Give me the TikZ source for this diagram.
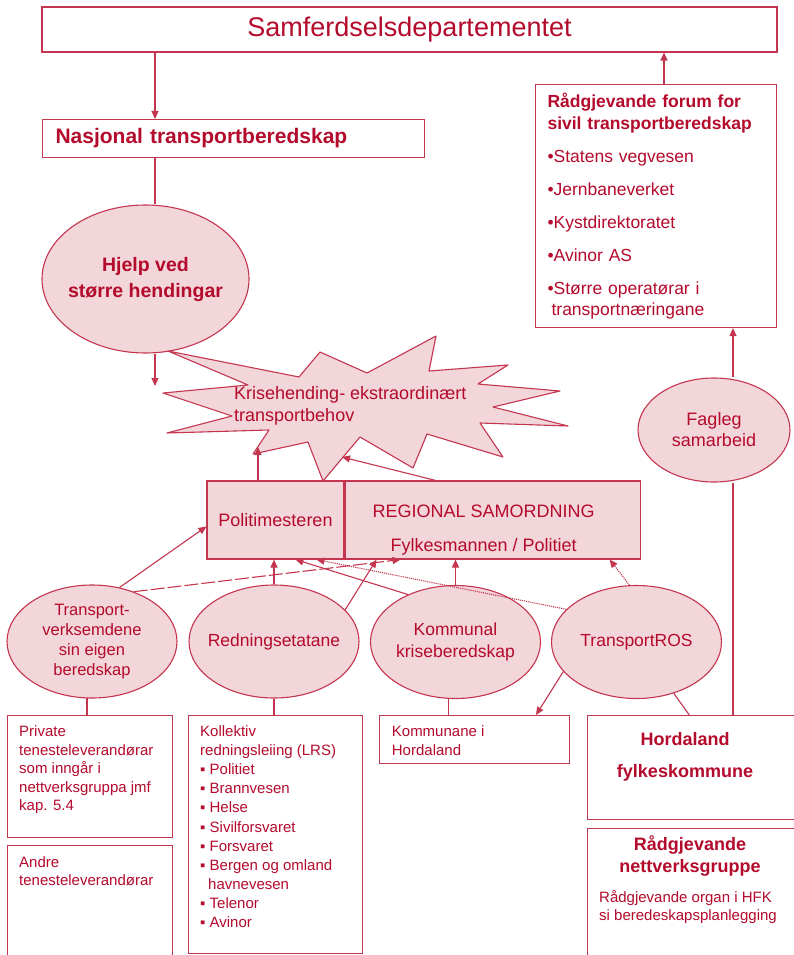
\documentclass[tikz,border=0pt]{standalone}
\usepackage{fontspec}
\setmainfont{Liberation Sans}
\usepackage{tikz}
\usetikzlibrary{positioning, arrows.meta, shapes.geometric, calc}
\definecolor{hfred}{HTML}{B40A2C}
\definecolor{hfline}{HTML}{C4354F}
\definecolor{hfpink}{HTML}{F3D6DA}
\newcommand{\pxfont}[2]{\fontsize{#1}{#2}\selectfont}

\begin{document}
\begin{tikzpicture}[
    x=1pt, y=-1pt,
    box/.style={draw=hfline, line width=1.1pt, fill=white, text=hfred, inner sep=0pt},
    pinkbox/.style={box, fill=hfpink, font=\pxfont{18}{22}},
    bubble/.style={ellipse, draw=hfline, line width=1.1pt, fill=hfpink, text=hfred, inner xsep=-30pt, inner ysep=0pt, align=center, minimum width=170pt, minimum height=113pt, font=\pxfont{17.5}{21}},
    txt/.style={text=hfred, inner sep=0pt, align=left, anchor=north west, font=\pxfont{15}{18.5}},
    arrow/.style={-{Triangle[length=8pt, width=7pt]}, hfline, line width=1.1pt},
    link/.style={hfline, line width=1.1pt}
  ]
  \useasboundingbox (0,0) rectangle (793,955);
  \coordinate (c1) at (155,0);
  \coordinate (c2) at (664,0);
  \coordinate (c3) at (733,0);
  \coordinate (hjelpend) at (155,386);
  \coordinate (kriseA) at (258,447);
  \coordinate (kriseB) at (342,457);

  \node[box, minimum width=735pt, minimum height=45pt, font=\pxfont{27}{32}] (dep) at (409.5,29.5) {Samferdselsdepartementet};
  \node[box, anchor=north west, minimum height=38pt, text width=356pt, inner xsep=13pt, align=left, font=\bfseries\pxfont{21}{25}] (nasjonal) at (42,119) {Nasjonal transportberedskap};
  \node[bubble, minimum width=207pt, minimum height=148pt, font=\bfseries\pxfont{19.5}{26}] (hjelp) at (145.5,279) {Hjelp ved\\større hendingar};

  \filldraw[link, fill=hfpink, line join=round] (168,351) -- (299,377) -- (320,352) -- (367,373) -- (436,336) -- (429,371) -- (508,365) -- (478,384) -- (560,391) -- (493,407) -- (568,426) -- (480,423) -- (503,457) -- (427,434) -- (413,468) -- (360,437) -- (323,481) -- (308,442) -- (253,454) -- (269,430) -- (167,433) -- (232,416) -- (163,393) -- (248,385) -- cycle;
  \node[txt, anchor=west, font=\pxfont{18}{21.7}] (krise) at (234,406) {Krisehending- ekstraordinært\\transportbehov};

  \node[pinkbox, minimum width=137pt, minimum height=78pt] (politi) at (275.5,520) {Politimesteren};
  \node[pinkbox, minimum width=295pt, minimum height=78pt, anchor=west] (regional) at (politi.east) {};
  \node[txt, anchor=center, align=center, font=\pxfont{18}{34}] (regtxt) at ([shift={(-9,10)}]regional.center) {REGIONAL SAMORDNING\\Fylkesmannen / Politiet};

  \node[box, anchor=north west, minimum height=243pt, text width=217pt, inner xsep=12pt, align=left, font=\pxfont{17.5}{21.6}] (forum) at (535,84)
    {\textbf{Rådgjevande forum for}\\\textbf{sivil transportberedskap}\\[11.5pt]
     •Statens vegvesen\\[11.5pt]•Jernbaneverket\\[11.5pt]•Kystdirektoratet\\[11.5pt]•Avinor AS\\[11.5pt]•Større operatørar i\\[-1.5pt]\hspace*{4pt}transportnæringane};
  \node[bubble, minimum width=152pt, minimum height=104pt, font=\pxfont{18}{21}] (fagleg) at (714,430) {Fagleg\\samarbeid};

  \node[bubble, font=\pxfont{16.5}{20}] (egen) at (92,641.5) {Transport-\\verksemdene\\sin eigen\\beredskap};
  \node[bubble] (redning) at (274,641.5) {Redningsetatane};
  \node[bubble, font=\pxfont{17.5}{22}] (kommunal) at (455.5,642) {Kommunal\\kriseberedskap};
  \node[bubble] (ros) at (636.5,642) {TransportROS};

  \node[box, anchor=north west, minimum width=164.5pt, minimum height=122pt] (private) at (7,715) {};
  \node[txt] (privtxt) at ([shift={(12,10.5)}]private.north west) {Private\\tenesteleverandørar\\som inngår i\\nettverksgruppa jmf\\kap. 5.4};
  \node[box, anchor=north west, minimum width=164.5pt, minimum height=115pt] (andre) at (7,845) {};
  \node[txt] (andretxt) at ([shift={(12,11.4)}]andre.north west) {Andre\\tenesteleverandørar};
  \node[box, anchor=north west, minimum width=174pt, minimum height=238pt] (kollektiv) at (188.3,715) {};
  \node[txt, font=\pxfont{15}{19.1}] (kolltxt) at ([shift={(11.7,10.5)}]kollektiv.north west) {Kollektiv\\redningsleiing (LRS)\\▪ Politiet\\▪ Brannvesen\\▪ Helse\\▪ Sivilforsvaret\\▪ Forsvaret\\▪ Bergen og omland\\\hspace*{8pt}havnevesen\\▪ Telenor\\▪ Avinor};
  \node[box, anchor=north west, minimum width=190pt, minimum height=48pt] (kommunane) at (379,715) {};
  \node[txt] (kommtxt) at ([shift={(12.7,10.5)}]kommunane.north west) {Kommunane i\\Hordaland};
  \node[box, anchor=north west, minimum width=210pt, minimum height=104pt] (hfk) at (586.7,715) {};
  \node[txt, anchor=center, align=center, font=\bfseries\pxfont{18}{32}] (hfktxt) at ([shift={(98.3,41.7)}]hfk.north west) {Hordaland\\fylkeskommune};
  \node[box, anchor=north west, minimum width=210pt, minimum height=130pt] (nett) at (586.7,827.7) {};
  \node[txt, anchor=center, align=center, font=\bfseries\pxfont{18}{21.7}] (netttxt) at ([shift={(103.3,28.2)}]nett.north west) {Rådgjevande\\nettverksgruppe};
  \node[txt] (nettsub) at ([shift={(12.3,62.4)}]nett.north west) {Rådgjevande organ i HFK\\si beredeskapsplanlegging};

  \draw[arrow] (dep.south -| c1) -- (nasjonal.north -| c1);
  \draw[link] (nasjonal.south -| c1) -- (hjelp.north -| c1);
  \draw[arrow] (hjelp.south -| c1) -- (hjelpend);
  \draw[arrow] (politi.north -| kriseA) -- (kriseA);
  \draw[arrow] ($(regional.north west)+(91,0)$) -- (kriseB);
  \draw[arrow] (forum.north -| c2) -- (dep.south -| c2);
  \draw[arrow] (fagleg.north -| c3) -- (forum.south -| c3);
  \draw[link] (fagleg.south -| c3) -- (hfk.north -| c3);
  \draw[arrow] (egen.63) -- ($(politi.north west)+(0,46)$);
  \draw[arrow, dash pattern=on 14pt off 3pt] (egen.50) -- ($(regional.south west)+(56,0)$);
  \draw[arrow] (redning.north) -- (redning.north |- politi.south);
  \draw[arrow] (redning.24) -- ($(regional.south west)+(32,0)$);
  \draw[arrow] (kommunal.135) -- ($(politi.south west)+(89,0)$);
  \draw[arrow] (kommunal.north) -- (kommunal.north |- regional.south);
  \draw[arrow, densely dotted] (ros.155) -- ($(politi.south west)+(110,0)$);
  \draw[arrow, densely dotted] (ros.97) -- ($(regional.south east)+(-31,0)$);
  \draw[arrow] (ros.202) -- ($(kommunane.north west)+(157,0)$);
  \draw[link] (ros.-54) -- ($(hfk.north west)+(102.6,0)$);
  \draw[link] (egen.-95) -- (egen.-95 |- private.north);
  \draw[link] (redning.south) -- (redning.south |- kollektiv.north);
  \draw[link] (kommunal.-97) -- (kommunal.-97 |- kommunane.north);
\end{tikzpicture}
\end{document}
